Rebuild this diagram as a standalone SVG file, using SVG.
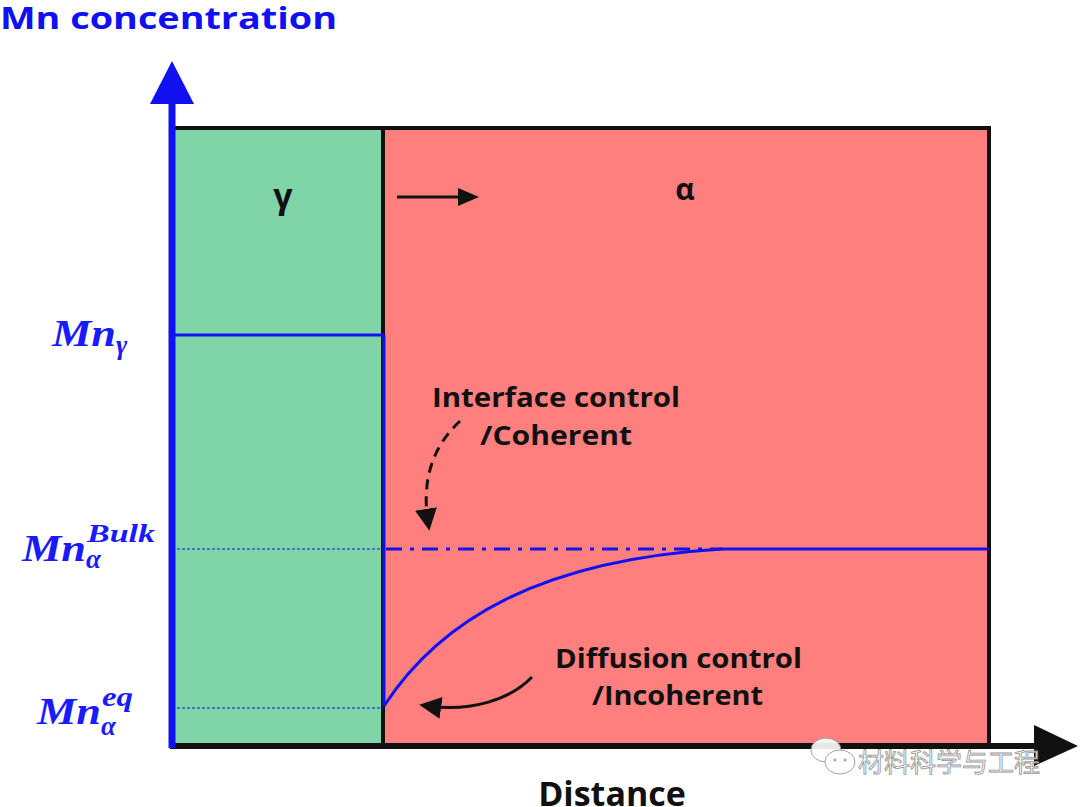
<svg xmlns="http://www.w3.org/2000/svg" width="1080" height="807" viewBox="0 0 1080 807">
<style>
.lbl{font-family:"Open Sans","Liberation Sans",sans-serif;font-weight:bold;fill:#111;}
.math{font-family:"Liberation Serif",serif;font-weight:bold;font-style:italic;fill:#1a1aff;}
.blue{stroke:#1010f0;fill:none;}
</style>
<defs>
<marker id="ahb" viewBox="0 0 10 10" refX="6" refY="5" markerWidth="22" markerHeight="22" orient="auto" markerUnits="userSpaceOnUse">
<path d="M0,0 L10,5 L0,10 Z" fill="#111"/>
</marker>
</defs>
<rect width="1080" height="807" fill="#fff"/>
<g id="phases">
<rect x="172" y="128" width="211" height="617" fill="#80d5a8"/>
<rect x="383" y="128" width="606" height="617" fill="#fe7f7d"/>
<rect x="172" y="128" width="817" height="617" fill="none" stroke="#111" stroke-width="4"/>
<line x1="383" y1="128" x2="383" y2="745" stroke="#111" stroke-width="4"/>
<text class="lbl" x="283" y="208" font-size="34" text-anchor="middle">γ</text>
<text class="lbl" x="685" y="200" font-size="30" text-anchor="middle">α</text>
</g>
<g id="axes">
<line x1="170" y1="746" x2="1040" y2="746" stroke="#111" stroke-width="6"/>
<path d="M1034,725 L1078,746 L1034,766 Z" fill="#111"/>
<line x1="172" y1="748" x2="172" y2="100" stroke="#1010f0" stroke-width="7"/>
<path d="M150,104 L172,61 L194,104 Z" fill="#1010f0"/>
<text x="0" y="29" font-family="Open Sans, Liberation Sans, sans-serif" font-weight="bold" font-size="31" fill="#1010f0" textLength="337" lengthAdjust="spacingAndGlyphs">Mn concentration</text>
<text class="lbl" x="612" y="806" font-size="34" text-anchor="middle">Distance</text>
</g>
<g id="profiles">
<line class="blue" x1="172" y1="335" x2="384" y2="335" stroke-width="3"/>
<line class="blue" x1="384" y1="335" x2="384" y2="706" stroke-width="3"/>
<line class="blue" x1="172" y1="549" x2="383" y2="549" stroke-width="1" stroke-dasharray="3,2"/>
<line class="blue" x1="172" y1="708" x2="383" y2="708" stroke-width="1" stroke-dasharray="3,2"/>
<line class="blue" x1="386" y1="549" x2="712" y2="549" stroke-width="3" stroke-dasharray="16,8,4,8"/>
<line class="blue" x1="712" y1="549" x2="989" y2="549" stroke-width="3"/>
<path class="blue" d="M384,706 C440,620 540,560 722,549" stroke-width="3"/>
</g>
<g id="labels">
<text class="math" x="52" y="346" font-size="38" textLength="64" lengthAdjust="spacingAndGlyphs">Mn</text>
<text class="math" x="116" y="354" font-size="27">γ</text>
<text class="math" x="22" y="561" font-size="38" textLength="64" lengthAdjust="spacingAndGlyphs">Mn</text>
<text class="math" x="87" y="542" font-size="26" textLength="68" lengthAdjust="spacingAndGlyphs">Bulk</text>
<text class="math" x="86" y="568" font-size="27">α</text>
<text class="math" x="37" y="724" font-size="38" textLength="64" lengthAdjust="spacingAndGlyphs">Mn</text>
<text class="math" x="102" y="706" font-size="27" textLength="31" lengthAdjust="spacingAndGlyphs">eq</text>
<text class="math" x="101" y="735" font-size="27">α</text>
<text class="lbl" x="432" y="407" font-size="26" textLength="248" lengthAdjust="spacingAndGlyphs">Interface control</text>
<text class="lbl" x="480" y="445" font-size="26" textLength="152" lengthAdjust="spacingAndGlyphs">/Coherent</text>
<text class="lbl" x="555" y="668" font-size="26" textLength="247" lengthAdjust="spacingAndGlyphs">Diffusion control</text>
<text class="lbl" x="592" y="705" font-size="26" textLength="171" lengthAdjust="spacingAndGlyphs">/Incoherent</text>
</g>
<g id="connectors">
<line x1="397" y1="197" x2="462" y2="197" stroke="#111" stroke-width="3"/>
<path d="M458,188 L479,197 L458,206 Z" fill="#111"/>
<path d="M460,421 C440,440 420,470 428,522" fill="none" stroke="#111" stroke-width="3" stroke-dasharray="10,7" marker-end="url(#ahb)"/>
<path d="M532,677 C510,700 470,712 428,706" fill="none" stroke="#111" stroke-width="3" marker-end="url(#ahb)"/>
</g>
<g id="watermark" opacity="0.9">
<ellipse cx="826" cy="750" rx="15" ry="12" fill="#fff" stroke="#999" stroke-width="1"/>
<ellipse cx="840" cy="762" rx="15" ry="12" fill="#fff" stroke="#999" stroke-width="1"/>
<circle cx="835" cy="760" r="1.5" fill="#999"/>
<circle cx="845" cy="760" r="1.5" fill="#999"/>
<text x="858" y="772" font-family="Noto Sans CJK SC, sans-serif" font-size="26" fill="#fff" stroke="#888" stroke-width="0.8">材料科学与工程</text>
</g>
</svg>
